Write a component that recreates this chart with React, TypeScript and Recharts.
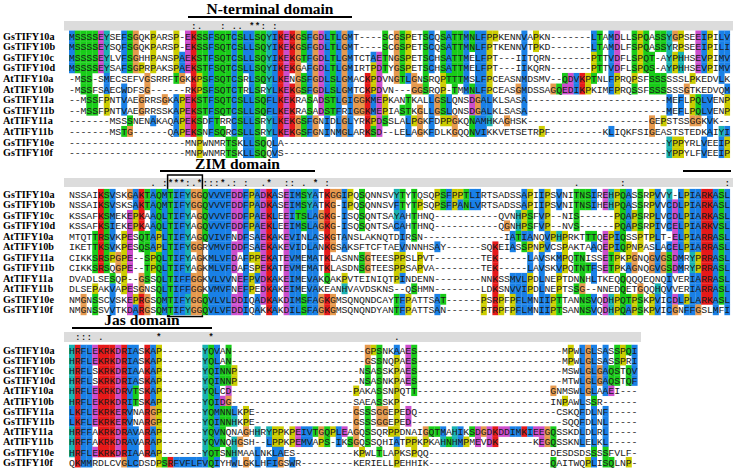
import React from 'react';
import { ScatterChart, Scatter, XAxis, YAxis, ReferenceArea, ReferenceLine, Label } from 'recharts';

// sequence names, same order in every block
const NAMES = [
  'GsTIFY10a', 'GsTIFY10b', 'GsTIFY10c', 'GsTIFY10d', 'AtTIFY10a', 'AtTIFY10b',
  'GsTIFY11a', 'GsTIFY11b', 'AtTIFY11a', 'AtTIFY11b', 'GsTIFY10e', 'GsTIFY10f',
];

const dash = (n: number) => '-'.repeat(n);

// block 1: columns 1-114
const BLOCK1 = [
  'MSSSSEYSEFSGQKPARSP-EKSSFSQTCSL' + 'LSQYIKEKGSFGDLTLGMT----SCGSPETSCQSATTMNLF' + 'PPKENNVAPKN-------LTAMDLLSPQASSYGPSEEIPILV',
  'MSSSSEYSQFSGQKPARSP-EKSSFSQTCSL' + 'LSQYIKEKGSFGDLTLGMT----SCGSPETSCQSATTMNLF' + 'PTKENNVTPKD-------LTAMDLFSPQASSYRPSEEIPILI',
  'MSSSSEYLVFSGHHPANSPAEKSTFSQTCSL' + 'LSQYIKEKGTFGDLTLGMTCTAETNGSPETSCHSATTMELF' + 'PT---IITQRN-------PTTVDFLSPQT-AYPHHSEVPIMV',
  'MSSSSEYSAFSGPRPAKSPAEKSTFSQTCSL' + 'LSQYIKEKGAFGDLTLGMIRTPDTYGSPETSCHSATTMELF' + 'PT---IIKQRN-------PTTVDFLSPQS-AYPHHSEVPIMV',
  '-MSS-SMECSEFVGSRRFTGKKPSFSQTCSR' + 'LSQYLKENGSFGDLSLGMACKPDVNGTLGNSRQPTTTMSLF' + 'PCEASNMDSMV--QDVKPTNLFPRQPSFSSSSSSLPKEDVLK',
  '-MSSFSAECWDFSG------RKPSFSQTCTR' + 'LSRYLKEKGSFGDLSLGMTCKPDVN---GGSRQP-TMMNLF' + 'PCEASGMDSSAGQEDIKPKIMFPRQSSFSSSSSSGTKEDVQM',
  '--MSSFPNTVAEGRRSGKAPEKSTFSQTCSL' + 'LSQFLKEKRASADSTLGIGGKMEPKANTKALLGSLQNSDGA' + 'LKLSASA' + dash(24) + 'MEFLPQLVENP',
  '--MSSFPNTVAEGRRSSKAPEKSTFSQTCSL' + 'LSQFLKEKRASADSTFRIGGKMEPIASTKGLLGSLQNSDGA' + 'LKLSASA' + dash(24) + 'MEFLPQLVENP',
  '-------MSSSNENAKAQAPEKSDFTRRCSL' + 'LSRYLKEKGSFGNIDLGLYRKPDSSLALPGKFDPPGKQNAM' + 'HKAGHSK' + dash(21) + 'GEPSTSSGGKVK--',
  '-------MSTG------QAPEKSNFSQRCSL' + 'LSRYLKEKGSFGNINMGLARKSD--LELAGKFDLKGQQNVI' + 'KKVETSETRPF---------KLIQKFSIGEASTSTEDKAIYI',
  dash(20) + 'MNPWNMRTSKL' + 'LSQQLA' + dash(66) + 'YPPYRLVEEIP',
  dash(20) + 'MNPWNMRTSKL' + 'LSQQVS' + dash(66) + 'YPPYLFVEEIP',
];

// block 2: columns 115-228
const BLOCK2 = [
  'NSSAIKSVSKGAKTAQMTIFYGGQVVVFDDF' + 'PADKASEIMSYATKGGIPQSQNNSVYTYTQSQPSFPPTLIR' + 'TSADSSAPIIPSVNITNSIREHPQASSRPVVY-LPIARKASL',
  'NSSAIKSVSKSAKTAQMTIFYGGQVVVFDDF' + 'PADKASEIMSYATKG-IPQSQNNSVFTYTPSQPSFPANLVR' + 'TSADSSAPIIPSVNITNSIHEHPQASSRPVVCDLPIARKASL',
  'KSSAFKSMEKEPKAAQLTIFYAGQVVVFDDF' + 'PAEKLEEITSLAGKG-ISQSQNTSAYAHTHNQ' + dash(9) + '--QVNHPSFVP--NIS------PQAPSRPLVCDLPIARKASL',
  'KSSAFKSIEKEPKAAQLTIFYAGQVVVFDDF' + 'PAEKLEEIMSLAGKG-ISQSQNTSACAHTHNQ' + dash(9) + '--QGNHPSFVP--NVS------PQAPSRPIVCELPIARKVSL',
  'MTQTTRSVKPESQTAPLTIFYAGQVIVFNDF' + 'SAEKAKEVINLASKGTANSLAKNQTDIRSN' + dash(11) + '---IATIANQVPHPRKTTTQEPIQSSPTPLT-ELPIARRASL',
  'IKETTKSVKPESQSAPLTIFYGGRVMVFDDF' + 'SAEKAKEVIDLANKGSAKSFTCFTAEVNNNHSAY------S' + 'QKEIASSPNPVCSPAKTAAQEPIQPNPASLACELPIARRASL',
  'CIKKSRSPGPE--SPQLTIFYAGKMLVFDAF' + 'PPEKATEVMEMATKLASNNSGTEESPPSLPVT--------T' + 'EK-----LAVSKMPQTNISSETPKPGNQGVGSDMRYPRRASL',
  'CIKKSRSQGPE--TPQLTIFYAGKMLVFDAF' + 'SPEKATEVMEMATKLASDNSGTEESPPSAPVA--------T' + 'EK-----LAVSKVPQTNTFSETPKAGNQGVGSDMRYPRRASL',
  'DVADLSESQP--GSSQLTIFFGGKVLVVNEF' + 'PVDKAKEIMEVAKQAKPVTEINIQTPINDENN--------N' + 'NKSSMVLPDLNEPTDNNHLTKEQQQQQEQNQIVERIARRASL',
  'DLSEPAKVAPESGNSQLTIFFGGKVMVFNEF' + 'PEDKAKEIMEVAKEANHVAVDSKNS--QSHMN--------L' + 'DKSNVVIPDLNEPTSSG--NNEDQETGQQHQVVERIARRASL',
  'NMGNSSCVSKEPRGSQMTIFYGGQVLVLDDI' + 'QADKAKDIMSFAGKGMSQNQNDCAYTFPATTSAT------P' + 'SRPFPFLMNIIPTTANNSVQDHPQTPSKPVICDLPLARKASL',
  'NMGNSSVVTKDARGSQMTIFYGGQVLVFDDI' + 'QAKKAKDILSFAGKGMSQNQNDYANTFPATTSAN------P' + 'TRPFPFLMNIIPTSANNSVQDHPQAPSKPVICGNFFGSLMFI',
];

// block 3: columns 229-326
const BLOCK3 = [
  'HRFLEKRKDRIASKAP-------YQVAN' + dash(23) + 'GPSNKAAES' + dash(25) + 'MPWLGLSASSPQI',
  'HRFLEKRKDRIASKAP-------YQLAN' + dash(23) + 'GSSNQPAES' + dash(25) + 'MPWLGLSASSPRI',
  'HRFLSKRKDRIAAKAP-------YQINNP' + dash(21) + 'NSASSKPAES' + dash(25) + 'MSWLGLGAQSTQV',
  'HRFLSKRKDRIASKAP-------YQINNP' + dash(21) + 'NSASNKPAES' + dash(25) + 'MTWLGLGAQSTQF',
  'HRFLEKRKDRVTSKAP-------YQLCD' + dash(21) + 'PAKASSNPQTT' + dash(23) + 'GNMSWLGLAAEI---',
  'HRFLEKRKDRITSKAP-------YQIDG' + dash(21) + 'SAEASSKP' + dash(26) + 'INPAWLSSR' + dash(6),
  'LKFLEKRKERVNARGP-------YQMNNLKPE' + dash(17) + 'GSSSGGEPEDQ' + dash(24) + 'CSKQFDLNF' + dash(5),
  'LKFLEKRKERVNARGP-------YQINNHKPE' + dash(17) + 'GSSSGGEPED' + dash(26) + 'SQQFDLNL' + dash(5),
  'HRFFAKRKDRAVARAP-------YQVNQNAG' + 'HHRYPPKPEIVTGQPLEAGQSSQRPPDNAIGQTMAHIKSDGD' + 'KDDIMKIEEGQSSKDLDLRL' + dash(5),
  'HRFFAKRKDRAVARAP-------YQVNQHGS' + 'H--LPPKPEMVAPS-IKSGQSSQHIATPPKPKAHNHMPMEVD' + 'K------KEGQSSKNLELKL' + dash(5),
  'HRFLEKRKDRIAARAP-------YQTSNHMA' + 'ALNKLAES' + dash(10) + 'KPWLTLAPKSPQQ' + dash(21) + 'DESDSDSSSSFVLF-',
  'QKMMRDLCVGLCDSDPSRFVFLFVQIYHWLG' + 'KLHFIGSWR' + dash(9) + 'KERIELLPEHHIK' + dash(21) + 'QAITWQPLISQLNP-',
];

const ROWS = NAMES.map((_, i) => i);

// page geometry
const W = 738;
const H = 472;
const LEFT = 69;
const CW = 5.8;
const NCOL = 114;
const RIGHT = W - LEFT - NCOL * CW;

const CLX = {
  blue: '#1980e6', red: '#e61919', green: '#19cc19', cyan: '#19b3b3',
  pink: '#e68080', magenta: '#cc4dcc', yellow: '#cccc00', orange: '#e6994d',
};

const HYD = 'WLVIMAFCYHP';

// Clustal X consensus classes of a column (gaps left out)
function consensus(col: string[]) {
  const res = col.filter(c => c !== '-');
  const set = new Set<string>();
  const n = res.length;
  if (!n) return set;
  const frac = (g: string) => res.filter(c => g.includes(c)).length / n;
  if (frac(HYD) >= 0.6) set.add('%');
  if (frac(HYD) >= 0.8) set.add('#');
  if (frac('ED') >= 0.5) set.add('-');
  if (frac('KR') >= 0.6) set.add('+');
  if (frac('G') >= 0.5) set.add('g');
  if (frac('N') >= 0.5) set.add('n');
  if (frac('QE') >= 0.5) set.add('q');
  if (frac('P') >= 0.5) set.add('p');
  if (frac('TS') >= 0.5) set.add('t');
  for (const a of 'ACDEFGHIKLMNPQRSTVWY') if (frac(a) >= 0.85) set.add(a);
  return set;
}

function colourOf(ch: string, s: Set<string>): string | null {
  const has = (k: string) => [...k].some(x => s.has(x));
  switch (ch) {
    case 'G': return CLX.orange;
    case 'P': return CLX.yellow;
    case 'T': return has('tST%#') ? CLX.green : null;
    case 'S': return has('tST#') ? CLX.green : null;
    case 'N': return has('nND') ? CLX.green : null;
    case 'Q': return has('qQE+KR') ? CLX.green : null;
    case 'W': case 'L': case 'V': case 'I': case 'M': case 'F': case 'A':
      return has('%#ACFHILMVWYPp') ? CLX.blue : null;
    case 'C':
      if (has('%#AFHILMVWYSPp')) return CLX.blue;
      return has('C') ? CLX.pink : null;
    case 'H': case 'Y': return has('%#ACFHILMVWYPp') ? CLX.cyan : null;
    case 'E': return has('-DEqQ') ? CLX.magenta : null;
    case 'D': return has('-DEnN') ? CLX.magenta : null;
    case 'K': case 'R': return has('+KRQ') ? CLX.red : null;
    default: return null;
  }
}

const STRONG = ['STA', 'NEQK', 'NHQK', 'NDEQ', 'QHRK', 'MILV', 'MILF', 'HY', 'FYW'];
const WEAK = ['CSA', 'ATV', 'SAG', 'STNK', 'STPA', 'SGND', 'SNDEQK', 'NDEQHK', 'NEQHRK', 'FVLIM', 'HFY'];

function conservation(col: string[]) {
  if (col.some(c => c === '-')) return '';
  const u = [...new Set(col)];
  if (u.length === 1) return '*';
  if (STRONG.some(g => u.every(c => g.includes(c)))) return ':';
  if (WEAK.some(g => u.every(c => g.includes(c)))) return '.';
  return '';
}

function buildCells(seqs: string[]) {
  const cells: { x: number; y: number; ch: string; color: string | null }[] = [];
  const cons: { x: number; ch: string }[] = [];
  const ncol = seqs[0].length;
  for (let c = 0; c < ncol; c++) {
    const col = seqs.map(s => s[c] || '-');
    const set = consensus(col);
    col.forEach((ch, r) => cells.push({ x: c + 0.5, y: r, ch, color: ch === '-' ? null : colourOf(ch, set) }));
    const sym = conservation(col);
    if (sym) cons.push({ x: c + 0.5, ch: sym });
  }
  return { cells, cons };
}

const MONO = "'Liberation Mono', 'DejaVu Sans Mono', monospace";
const SERIF = "'Liberation Serif', 'Times New Roman', serif";
const TITLE = { fontFamily: SERIF, fontWeight: 700, fontSize: 15.5, fill: '#000' };

type Lay = { top: number; height: number; row0: number; pitch: number; barTop: number; barBottom: number; barRight: number };

function NameTick(props: any) {
  const { y, payload } = props;
  return (
    <text x={3} y={y + 3.6} fontFamily={SERIF} fontWeight={700} fontSize={10.2} fill="#000">
      {NAMES[payload.value]}
    </text>
  );
}

function Block({ seqs, lay, children }: { seqs: string[]; lay: Lay; children?: (py: (p: number) => number) => React.ReactNode }) {
  const { cells, cons } = buildCells(seqs);
  const py = (p: number) => (p - lay.row0) / lay.pitch;
  const d0 = py(lay.top);
  const d1 = py(lay.top + lay.height);
  const hy = py((lay.barTop + lay.barBottom) / 2);
  const consData = cons.map(c => ({ x: c.x, y: hy, ch: c.ch }));
  const cellH = lay.pitch + 0.3;

  const cellShape = (p: any) => {
    const { cx, cy, payload } = p;
    return (
      <g>
        {payload.color && <rect x={cx - CW / 2} y={cy - cellH / 2} width={CW + 0.2} height={cellH} fill={payload.color} />}
        <text x={cx} y={cy + 3.5} textAnchor="middle" fontFamily={MONO} fontSize={9.9} fill="#1a1a1a">{payload.ch}</text>
      </g>
    );
  };
  const consShape = (p: any) => (
    <text x={p.cx} y={p.cy + 3} textAnchor="middle" fontFamily={MONO} fontWeight={700} fontSize={8.5} fill="#111">{p.payload.ch}</text>
  );

  return (
    <div style={{ position: 'absolute', left: 0, top: lay.top }}>
      <ScatterChart width={W} height={lay.height} margin={{ top: 0, right: RIGHT, bottom: 0, left: 0 }}>
        <XAxis type="number" dataKey="x" domain={[0, NCOL]} allowDataOverflow hide />
        <YAxis
          type="number"
          dataKey="y"
          domain={[d0, d1]}
          allowDataOverflow
          reversed
          width={LEFT}
          ticks={ROWS}
          interval={0}
          axisLine={false}
          tickLine={false}
          tick={(p: any) => <NameTick {...p} />}
        />
        <ReferenceArea
          x1={(64 - LEFT) / CW}
          x2={(lay.barRight - LEFT) / CW}
          y1={py(lay.barTop)}
          y2={py(lay.barBottom)}
          fill="#dcdcdc"
          fillOpacity={1}
          stroke="none"
          ifOverflow="visible"
        />
        <Scatter data={cells} shape={cellShape} isAnimationActive={false} />
        <Scatter data={consData} shape={consShape} isAnimationActive={false} />
        {children && children(py)}
      </ScatterChart>
    </div>
  );
}

const cx = (p: number) => (p - LEFT) / CW;

const L1: Lay = { top: 0, height: 165, row0: 36, pitch: 10.6, barTop: 21, barBottom: 30.5, barRight: 733 };
const L2: Lay = { top: 150, height: 170, row0: 194.3, pitch: 10.5, barTop: 178, barBottom: 187, barRight: 733 };
const L3: Lay = { top: 305, height: 167, row0: 350, pitch: 10.2, barTop: 332, barBottom: 342, barRight: 641 };

export default function App() {
  return (
    <div style={{ position: 'absolute', left: 0, top: 0, width: W, height: H, background: '#fff', overflow: 'hidden' }}>
      <Block seqs={BLOCK1} lay={L1}>
        {py => (
          <ReferenceLine
            segment={[{ x: cx(188), y: py(17) }, { x: cx(352), y: py(17) }]}
            stroke="#000"
            strokeWidth={2}
            ifOverflow="visible"
          >
            <Label value="N-terminal domain" position="top" offset={3} style={TITLE} />
          </ReferenceLine>
        )}
      </Block>
      <Block seqs={BLOCK2} lay={L2}>
        {py => [
          <ReferenceLine
            key="zim"
            segment={[{ x: cx(160), y: py(171) }, { x: cx(315), y: py(171) }]}
            stroke="#000"
            strokeWidth={2}
            ifOverflow="visible"
          >
            <Label value="ZIM domain" position="top" offset={2} style={TITLE} />
          </ReferenceLine>,
          <ReferenceLine
            key="jas"
            segment={[{ x: cx(683), y: py(171) }, { x: cx(731), y: py(171) }]}
            stroke="#000"
            strokeWidth={2}
            ifOverflow="visible"
          />,
          <ReferenceArea
            key="box"
            x1={17}
            x2={23}
            y1={py(175)}
            y2={py(316.5)}
            fill="none"
            stroke="#000"
            strokeWidth={1.5}
            ifOverflow="visible"
          />,
        ]}
      </Block>
      <Block seqs={BLOCK3} lay={L3}>
        {py => (
          <ReferenceLine
            segment={[{ x: cx(72), y: py(328) }, { x: cx(212), y: py(328) }]}
            stroke="#000"
            strokeWidth={2}
            ifOverflow="visible"
          >
            <Label value="Jas domain" position="top" offset={3} style={TITLE} />
          </ReferenceLine>
        )}
      </Block>
    </div>
  );
}
